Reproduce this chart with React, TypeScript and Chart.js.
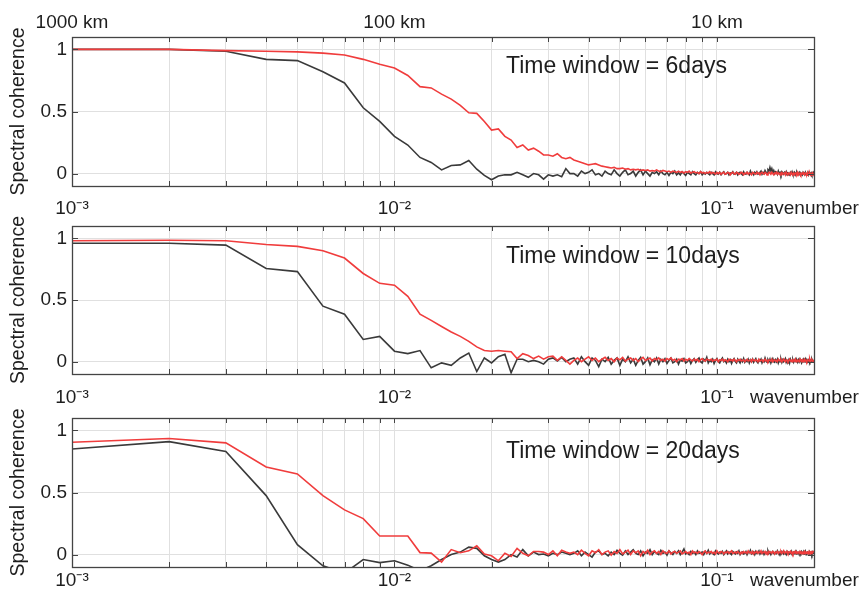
import React, { useEffect, useRef } from 'react';
import { Chart, registerables } from 'chart.js';

Chart.register(...registerables);

// ---------------- data ----------------
// wavenumber grid (cycles/km): 0.001, 0.002, ... 0.200
const WAVENUMBER_STEP = 0.001;
const N_POINTS = 200;
const WAVENUMBER: number[] = Array.from({ length: N_POINTS }, (_, i) => +((i + 1) * WAVENUMBER_STEP).toFixed(3));

const X_TICKS = [0.001, 0.002, 0.003, 0.004, 0.005, 0.006, 0.007, 0.008, 0.009,
  0.01, 0.02, 0.03, 0.04, 0.05, 0.06, 0.07, 0.08, 0.09, 0.1, 0.2];
const X_MAJOR = [0.001, 0.01, 0.1];
const X_MAJOR_LABELS = ['10\u207B\u00B3', '10\u207B\u00B2', '10\u207B\u00B9'];
const TOP_LABELS = ['1000 km', '100 km', '10 km'];
const Y_TICKS = [0, 0.5, 1];
const Y_TICK_LABELS = ['0', '0.5', '1'];
const X_MIN = 0.001;
const X_MAX = 0.2;
const Y_MIN = -0.1;
const Y_MAX = 1.1;
const X_TITLE = 'wavenumber';
const Y_TITLE = 'Spectral coherence';
const WINDOW_LABELS = ['Time window = 6days', 'Time window = 10days', 'Time window = 20days'];

const COH_6D_RED = [
  1.00, 1.00, 0.99, 0.985, 0.98, 0.97, 0.955, 0.92, 0.88, 0.85,
  0.79, 0.70, 0.69, 0.64, 0.60, 0.55, 0.49, 0.485, 0.42, 0.35,
  0.36, 0.30, 0.27, 0.21, 0.23, 0.19, 0.205, 0.18, 0.15, 0.15,
  0.14, 0.16, 0.13, 0.12, 0.13,
  .11, .10, .09, .08, .07, .075, .08, .07, .06, .055,
  .05, .045, .05, .04, .04, .045, .035, .04, .03, .035,
  .03, .035, .025, .03, .025, .03, .02, .025, .02, .03,
  .02, .015, .025, .02, .015, .02, .01, .02, .015, .01,
  .02, .01, .015, .005, .015, .01, .02, .005, .01, .015,
  .005, .01, .0, .015, .005, .01, .0, .01, .005, .015,
  .0, .01, .005, -.005, .01, .0, .01, -.005, .005, .01,
  -.005, .0, .01, .005, -.01, .005, .01, .0, -.005, .01,
  .005, -.005, .0, .01, .005, -.01, .005, .0, .01, -.005,
  .005, .0, -.01, .01, .005, .0, -.005, .01, .0, .005,
  -.01, .005, .01, .0, -.005, .01, .005, -.01, .0, .01,
  .005, -.005, .01, .0, -.01, .005, .0, .01, -.005, .005,
  .0, -.01, .005, .01, -.005, .0, .005, -.01, .01, .0,
  -.005, .005, .0, -.01, .01, .0, -.005, .005, -.01, .0,
  .005, -.005, .01, -.01, .0, .005, -.01, .0, .005, -.005,
  .0, -.01, .005, .0, -.005, .01, -.01, .0, .005, -.01,
  .0, -.005, .005, -.01, .0,
];
const COH_6D_BLACK = [
  1.00, 1.00, 0.985, 0.92, 0.91, 0.82, 0.73, 0.53, 0.42, 0.30,
  0.23, 0.13, 0.09, 0.03, 0.065, 0.07, 0.105, 0.035, -0.015, -0.05,
  -0.02, -0.01, -0.01, 0.01, -0.01, -0.03, 0.0, -0.01, -0.045, -0.01,
  -0.02, -0.01, -0.025, 0.04, 0.0,
  .0, -.02, .02, .0, .01, .03, -.01, .0, -.02, .02,
  .0, -.01, .03, .0, -.02, .01, .03, -.01, .0, .02,
  -.02, .01, .03, -.01, .02, .0, -.02, .01, .0, .015,
  -.01, .02, .0, -.01, .01, -.015, .01, .0, .02, -.01,
  .005, -.01, .015, .0, -.015, .01, .0, -.01, .015, .0,
  -.01, .01, .0, .015, -.01, .005, -.005, .01, .0, -.01,
  .01, .0, -.01, .015, .0, -.005, .01, -.01, .005, .015,
  -.005, .0, .01, -.01, .005, .0, .015, -.005, .0, .01,
  -.01, .005, .01, .0, -.01, .015, .0, -.005, .01, .0,
  -.01, .02, .0, .005, -.01, .01, .0, .015, -.005, .0,
  .01, .02, -.005, .01, .0, .025, .01, .0, .03, .02,
  .05, .02, .04, .01, .025, .0, .015, .01, -.005, .02,
  .0, .01, -.01, .015, .005, -.005, .01, .0, .015, -.01,
  .005, .0, -.01, .01, .0, .015, -.005, .0, .01, -.01,
  .005, .01, -.005, .0, .01, -.01, .005, .0, -.01, .01,
  .0, -.005, .01, -.01, .0, .005, -.01, .01, .0, -.005,
  .005, -.01, .0, .01, -.005,
];

const COH_10D_RED = [
  0.98, 0.985, 0.98, 0.95, 0.935, 0.90, 0.84, 0.715, 0.635, 0.62,
  0.53, 0.385, 0.335, 0.285, 0.24, 0.205, 0.165, 0.12, 0.09, 0.085,
  0.09, 0.085, 0.08, 0.025, 0.065, 0.05, 0.025, 0.045, 0.02, 0.04,
  0.045, 0.01, 0.04, 0.01, -0.02,
  .01, .03, .0, .02, .04, .01, .03, .0, .02, .035,
  .01, .025, .0, .03, .015, .035, .005, .02, .03, .01,
  .025, .0, .02, .035, .01, .02, .03, .005, .025, .015,
  .03, .01, .02, .005, .025, .015, .03, .01, .02, .0,
  .02, .015, .025, .005, .02, .01, .025, .015, .005, .02,
  .01, .02, .0, .015, .025, .01, .005, .02, .015, .01,
  .02, .005, .015, .01, .02, .0, .015, .01, .02, .005,
  .015, .01, .0, .02, .01, .015, .005, .02, .01, .0,
  .015, .01, .02, .005, .01, .015, .0, .01, .02, .005,
  .01, .015, .0, .02, .01, .005, .015, .01, .0, .02,
  .005, .01, .015, .0, .01, .02, .005, .01, .0, .015,
  .01, .005, .02, .0, .01, .015, .005, .01, .0, .02,
  .01, .005, .015, .0, .01, .02, .005, .0, .015, .01,
  .0, .01, .02, .005, .01, .0, .015, .01, .005, .02,
  .0, .01, .015, .005, .0, .02, .01, .005, .015, .0,
  .01, .02, .005, .01, .0, .015, .01, .005, .02, .0,
  .01, .015, .005, .01, .0,
];
const COH_10D_BLACK = [
  0.96, 0.96, 0.945, 0.755, 0.73, 0.45, 0.385, 0.18, 0.205, 0.085,
  0.065, 0.09, -0.05, -0.01, -0.03, 0.03, 0.07, -0.08, 0.03, -0.01,
  0.04, 0.06, -0.09, 0.02, 0.02, 0.0, 0.01, 0.0, -0.02, 0.02,
  0.03, 0.005, 0.035, 0.0, 0.02,
  .03, -.02, .04, .0, -.03, .03, .01, -.04, .02, .0,
  .035, -.02, .01, .03, -.03, .02, .0, .04, -.01, .02,
  -.03, .01, .035, -.02, .0, .03, -.025, .015, .0, .03,
  -.02, .02, .0, .025, -.015, .01, .03, -.01, .0, .02,
  -.02, .015, .005, .025, -.01, .0, .02, -.015, .01, .025,
  -.005, .015, .03, .0, -.01, .02, .005, .035, -.01, .01,
  .0, .02, -.015, .01, .025, .0, -.01, .015, .03, .0,
  .01, -.01, .02, .0, .015, -.015, .01, .025, .0, -.01,
  .02, .005, -.01, .015, .0, .025, -.005, .01, .0, .02,
  -.01, .015, .0, .02, -.005, .01, .025, .0, -.01, .015,
  .005, .02, -.01, .01, .0, .03, .005, -.005, .015, .0,
  .02, -.01, .01, .025, .0, -.005, .015, .0, .02, -.01,
  .01, .0, .02, -.005, .015, .0, .01, .025, -.005, .01,
  .0, .015, -.01, .02, .005, .0, .015, -.005, .01, .02,
  .0, .01, -.005, .015, .0, .02, .005, -.01, .01, .0,
  .015, .005, .02, -.005, .01, .0, .015, .005, -.005, .01,
  .0, .02, .005, .0, .01,
];

const COH_20D_RED = [
  0.905, 0.935, 0.90, 0.705, 0.65, 0.475, 0.36, 0.29, 0.15, 0.15,
  0.15, 0.016, 0.012, -0.06, 0.04, 0.015, 0.03, 0.07, 0.005, -0.01,
  -0.05, 0.01, -0.015, 0.05, 0.01, -0.01, 0.025, 0.025, 0.02, 0.0,
  0.03, -0.01, 0.035, 0.02, 0.01,
  .02, .0, .035, .01, -.01, .03, .015, .04, .0, .02,
  .03, -.005, .025, .01, .04, .005, .02, .035, .0, .03,
  .015, .03, -.01, .025, .01, .035, .0, .02, .03, .01,
  .025, .0, .03, .015, .01, .03, .005, .02, .025, .01,
  .02, .03, .005, .015, .025, .01, .02, .0, .03, .015,
  .02, .01, .025, .015, .0, .02, .03, .01, .02, .015,
  .025, .01, .02, .005, .03, .015, .01, .025, .02, .005,
  .02, .015, .025, .01, .02, .03, .01, .015, .02, .01,
  .025, .015, .005, .02, .01, .025, .015, .02, .01, .03,
  .015, .02, .01, .025, .005, .02, .015, .025, .01, .02,
  .015, .03, .01, .02, .015, .025, .005, .02, .01, .025,
  .015, .02, .01, .025, .02, .005, .02, .015, .025, .01,
  .02, .015, .025, .01, .02, .03, .01, .02, .015, .025,
  .01, .02, .015, .025, .01, .02, .005, .02, .015, .025,
  .01, .02, .015, .02, .01, .025, .015, .02, .01, .02,
  .015, .025, .01, .02, .015, .02, .01, .025, .015, .02,
  .01, .02, .015, .025, .02,
];
const COH_20D_BLACK = [
  0.85, 0.91, 0.83, 0.475, 0.08, -0.09, -0.15, -0.04, -0.065, -0.05,
  -0.085, -0.13, -0.09, -0.04, 0.0, 0.02, 0.06, 0.05, -0.01, -0.04,
  -0.06, -0.04, 0.0, -0.02, 0.04, -0.01, 0.02, 0.0, 0.005, -0.01,
  0.01, 0.0, 0.02, 0.01, 0.0,
  .01, .03, -.01, .02, .0, -.02, .02, .03, .0, .01,
  -.01, .02, .0, .035, .01, -.005, .03, .0, .02, .04,
  .01, .0, .03, -.01, .02, .01, .04, .0, .025, .01,
  .0, .035, .01, .02, -.005, .03, .015, .0, .025, .01,
  .03, .0, .02, .045, .005, .015, .0, .025, .01, .02,
  .0, .03, .01, .015, .02, .0, .025, .01, .035, .005,
  .02, .01, .0, .03, .015, .005, .02, .01, .025, .0,
  .015, .03, .005, .02, .01, .0, .025, .015, .005, .02,
  .01, .03, .0, .015, .02, .005, .01, .025, .0, .02,
  .015, .035, .005, .01, .02, .0, .025, .01, .015, .03,
  .005, .02, .01, .025, .0, .015, .02, .005, .03, .01,
  .02, .0, .015, .025, .01, .005, .02, .01, .03, .015,
  .0, .02, .01, .025, .015, .005, .02, .01, .0, .025,
  .015, .02, .005, .01, .025, .0, .015, .02, .01, .025,
  .005, .02, .01, .015, .0, .02, .01, .025, .015, .005,
  .02, .01, .025, .0, .015, .02, .01, .005, .02, .01,
  .015, .0, .02, .01, .015,
];

// ---------------- styling ----------------
const FONT = '"Liberation Sans", Arial, Helvetica, sans-serif';
const RED = '#f03c3c';
const DARK = '#3a3a3a';
const GRID = '#e0e0e0';
const FRAME = '#444444';
const TEXT = '#1e1e1e';

type PanelSpec = {
  top: number; height: number; padTop: number; xHeight: number;
  tickPad: number; labelDy: number; showTop: boolean;
  label: string; red: number[]; black: number[];
};

// canvases overlap (they are transparent) so that tick labels are never clipped
const PANELS: PanelSpec[] = [
  { top: 0, height: 225, padTop: 0, xHeight: 39, tickPad: 11, labelDy: 36, showTop: true,
    label: WINDOW_LABELS[0], red: COH_6D_RED, black: COH_6D_BLACK },
  { top: 200, height: 215, padTop: 26, xHeight: 41, tickPad: 12, labelDy: 37, showTop: false,
    label: WINDOW_LABELS[1], red: COH_10D_RED, black: COH_10D_BLACK },
  { top: 395, height: 204, padTop: 23, xHeight: 32, tickPad: 2, labelDy: 40, showTop: false,
    label: WINDOW_LABELS[2], red: COH_20D_RED, black: COH_20D_BLACK },
];

const toPoints = (ys: number[]) =>
  ys.slice(0, WAVENUMBER.length).map((y, i) => ({ x: WAVENUMBER[i], y }));

const majorLabel = (v: number, labels: string[]) => {
  const i = X_MAJOR.findIndex((m) => Math.abs(m - v) < 1e-9);
  return i >= 0 ? labels[i] : '';
};

function makeDecor(p: PanelSpec) {
  return {
    id: 'matlabDecor',
    afterDatasetsDraw(chart: any) {
      const { ctx, chartArea: a, scales } = chart;
      const xs = scales.x;
      const ys = scales.y;
      ctx.save();
      ctx.strokeStyle = FRAME;
      ctx.lineWidth = 1;
      ctx.beginPath();
      for (const v of X_TICKS) {
        const px = Math.round(xs.getPixelForValue(v)) + 0.5;
        if (px <= a.left + 1 || px >= a.right - 1) continue;
        ctx.moveTo(px, a.top); ctx.lineTo(px, a.top + 5);
        ctx.moveTo(px, a.bottom); ctx.lineTo(px, a.bottom - 5);
      }
      for (const v of Y_TICKS) {
        const py = Math.round(ys.getPixelForValue(v)) + 0.5;
        ctx.moveTo(a.left, py); ctx.lineTo(a.left + 6, py);
        ctx.moveTo(a.right, py); ctx.lineTo(a.right - 6, py);
      }
      ctx.stroke();
      ctx.lineWidth = 1.3;
      ctx.strokeRect(Math.round(a.left) + 0.5, Math.round(a.top) + 0.5,
        Math.round(a.right - a.left), Math.round(a.bottom - a.top));
      ctx.fillStyle = TEXT;
      ctx.textAlign = 'left';
      ctx.textBaseline = 'alphabetic';
      ctx.font = `23px ${FONT}`;
      ctx.fillText(p.label, a.left + 434, a.top + p.labelDy);
      ctx.font = `19px ${FONT}`;
      ctx.textBaseline = 'middle';
      ctx.fillText(X_TITLE, 750, a.bottom + p.tickPad + 11.4);
      ctx.restore();
    },
  };
}

function Panel({ p }: { p: PanelSpec }) {
  const ref = useRef<HTMLCanvasElement | null>(null);
  useEffect(() => {
    if (!ref.current) return;
    const scales: any = {
      x: {
        type: 'logarithmic', position: 'bottom', min: X_MIN, max: X_MAX,
        afterBuildTicks: (s: any) => { s.ticks = X_TICKS.map((v) => ({ value: v })); },
        afterFit: (s: any) => { s.height = p.xHeight; },
        grid: { display: true, color: GRID, lineWidth: 1, drawTicks: false },
        border: { display: false },
        ticks: {
          autoSkip: false, maxRotation: 0, padding: p.tickPad, color: TEXT,
          font: { family: FONT, size: 19 },
          callback: (v: any) => majorLabel(Number(v), X_MAJOR_LABELS),
        },
      },
      y: {
        type: 'linear', position: 'left', min: Y_MIN, max: Y_MAX,
        afterBuildTicks: (s: any) => { s.ticks = Y_TICKS.map((v) => ({ value: v })); },
        afterFit: (s: any) => { s.width = 72; },
        grid: { display: true, color: GRID, lineWidth: 1, drawTicks: false },
        border: { display: false },
        ticks: {
          padding: 5, color: TEXT, font: { family: FONT, size: 19 },
          callback: (v: any) => Y_TICK_LABELS[Y_TICKS.indexOf(Number(v))] ?? '',
        },
        title: {
          display: true, text: Y_TITLE, color: TEXT,
          font: { family: FONT, size: 19.5 }, padding: { top: 7, bottom: 0 },
        },
      },
    };
    if (p.showTop) {
      scales.xTop = {
        type: 'logarithmic', position: 'top', min: X_MIN, max: X_MAX,
        afterBuildTicks: (s: any) => { s.ticks = X_MAJOR.map((v) => ({ value: v })); },
        afterFit: (s: any) => { s.height = 37; },
        grid: { display: false, drawTicks: false },
        border: { display: false },
        ticks: {
          autoSkip: false, maxRotation: 0, padding: 3, color: TEXT,
          font: { family: FONT, size: 19 },
          callback: (v: any) => majorLabel(Number(v), TOP_LABELS),
        },
      };
    }
    const chart = new Chart(ref.current, {
      type: 'line',
      data: {
        datasets: [
          { label: 'red', data: toPoints(p.red), borderColor: RED, borderWidth: 1.6,
            pointRadius: 0, tension: 0, fill: false },
          { label: 'black', data: toPoints(p.black), borderColor: DARK, borderWidth: 1.6,
            pointRadius: 0, tension: 0, fill: false },
        ],
      },
      options: {
        responsive: false,
        animation: false,
        events: [],
        layout: { padding: { left: 0, right: 49, top: p.padTop, bottom: 0 } },
        plugins: { legend: { display: false }, tooltip: { enabled: false } },
        scales,
      } as any,
      plugins: [makeDecor(p)],
    });
    return () => chart.destroy();
  }, [p]);
  return (
    <canvas
      ref={ref}
      width={863}
      height={p.height}
      style={{ position: 'absolute', left: 0, top: p.top, width: 863, height: p.height }}
    />
  );
}

export default function App() {
  return (
    <div style={{ position: 'absolute', left: 0, top: 0, width: 863, height: 599, background: '#fff', overflow: 'hidden' }}>
      {PANELS.map((p, i) => <Panel key={i} p={p} />)}
    </div>
  );
}
